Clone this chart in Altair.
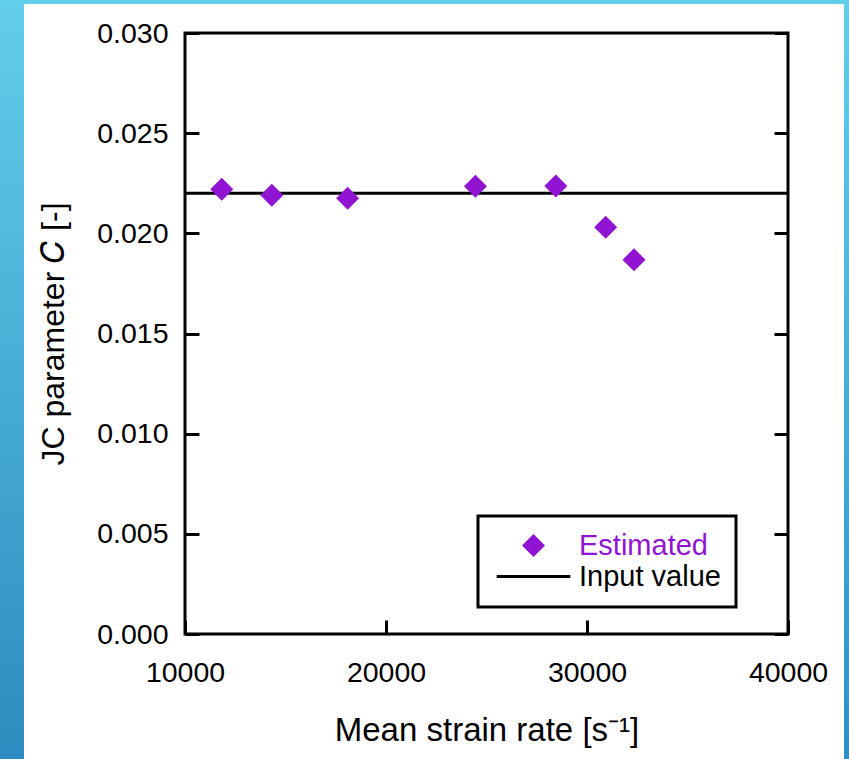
import altair as alt
import pandas as pd

# ---- data ----
strain_rate = [11830, 14320, 18090, 24450, 28450, 30930, 32340]
c_estimated = [0.02220, 0.02190, 0.02175, 0.02235, 0.02236, 0.02030, 0.01868]
input_value = [0.022]
series_names = ["Estimated", "Input value"]
series_colors = ["#9114D2", "#000000"]
x_ticks = [10000, 20000, 30000, 40000]
y_ticks = [0.000, 0.005, 0.010, 0.015, 0.020, 0.025, 0.030]

W, H = 603, 601
PAD = {"left": 185, "top": 33, "right": 61, "bottom": 125}
FONT = "Liberation Sans"
PURPLE = series_colors[0]

est = pd.DataFrame({"rate": strain_rate, "C": c_estimated, "series": series_names[0]})
inp = pd.DataFrame({"C": input_value})
one = pd.DataFrame({"k": [0]})

x_scale = alt.Scale(domain=[10000, 40000], nice=False, zero=False)
y_scale = alt.Scale(domain=[0, 0.03], nice=False, zero=True)

# ---- slide background strips (decoration) ----
def grad(c1, c2):
    return alt.LinearGradient(
        gradient="linear",
        stops=[alt.GradientStop(offset=0, color=c1), alt.GradientStop(offset=1, color=c2)],
        x1=0, x2=0, y1=0, y2=1,
    )

left_strip = alt.Chart(one).mark_rect(color=grad("#62CEEA", "#2C8CBF")).encode(
    x=alt.value(-PAD["left"]), x2=alt.value(24 - PAD["left"]),
    y=alt.value(-PAD["top"]), y2=alt.value(H + PAD["bottom"]),
)
top_strip = alt.Chart(one).mark_rect(color="#61CFEA").encode(
    x=alt.value(-PAD["left"]), x2=alt.value(W + PAD["right"]),
    y=alt.value(-PAD["top"]), y2=alt.value(4 - PAD["top"]),
)
right_strip = alt.Chart(one).mark_rect(color=grad("#62CEEA", "#2E90C2")).encode(
    x=alt.value(844 - PAD["left"]), x2=alt.value(W + PAD["right"]),
    y=alt.value(-PAD["top"]), y2=alt.value(H + PAD["bottom"]),
)

# ---- axes ----
main_x_axis = alt.Axis(
    orient="bottom", values=x_ticks, format="d", ticks=False, domain=False, grid=False,
    labelFont=FONT, labelFontSize=28.5, labelColor="black", labelPadding=24,
    labelFlush=False, labelOverlap=False,
    title="Mean strain rate [s⁻¹]", titleFont=FONT, titleFontSize=33,
    titleFontWeight="normal", titleColor="black", titlePadding=28,
)
main_y_axis = alt.Axis(
    orient="left", values=y_ticks, format=".3f", ticks=False, domain=False, grid=False,
    labelFont=FONT, labelFontSize=28.5, labelColor="black", labelPadding=17,
    labelFlush=False, labelOverlap=False,
    title="JC parameter 𝐶 [-]", titleFont=FONT, titleFontSize=32,
    titleFontWeight="normal", titleColor="black", titlePadding=26,
)

def tick_axis(orient, values):
    return alt.Axis(
        orient=orient, offset=-14, values=values, ticks=True, tickSize=14, tickWidth=3,
        tickColor="black", labels=False, domain=False, grid=False, title=None,
    )

legend = alt.Legend(
    orient="none", legendX=293, legendY=483, title=None,
    labelFont=FONT, labelFontSize=29,
    labelColor=alt.ExprRef(expr=f"datum.label == 'Estimated' ? '{PURPLE}' : '#000000'"),
    symbolSize=530, symbolStrokeWidth=0, symbolOffset=26, labelOffset=31, padding=15,
    strokeColor="black", rowPadding=1,
)

color_enc = alt.Color("series:N", scale=alt.Scale(domain=series_names, range=series_colors), legend=legend)
shape_enc = alt.Shape(
    "series:N",
    scale=alt.Scale(domain=series_names, range=["diamond", "M-3.2,-0.13L3.2,-0.13L3.2,0.13L-3.2,0.13Z"]),
    legend=legend,
)

points = alt.Chart(est).mark_point(filled=True, size=530, opacity=1, strokeWidth=0).encode(
    x=alt.X("rate:Q", scale=x_scale, axis=main_x_axis),
    y=alt.Y("C:Q", scale=y_scale, axis=main_y_axis),
    color=color_enc,
    shape=shape_enc,
)

rule = alt.Chart(inp).mark_rule(color="black", strokeWidth=3).encode(
    y=alt.Y("C:Q", scale=y_scale, axis=tick_axis("left", y_ticks)),
)

tick_carrier = alt.Chart(est).mark_point(opacity=0).encode(
    x=alt.X("rate:Q", scale=x_scale, axis=tick_axis("bottom", x_ticks)),
    y=alt.Y("C:Q", scale=y_scale, axis=tick_axis("right", y_ticks)),
)

chart = (
    alt.layer(left_strip, top_strip, right_strip, rule, tick_carrier, points)
    .resolve_axis(x="independent", y="independent")
    .properties(width=W, height=H, padding=PAD, autosize=alt.AutoSizeParams(type="none"))
    .configure(background="white")
    .configure_view(stroke="black", strokeWidth=3)
    .configure_legend(strokeWidth=3)
)

chart.save("out.html", embed_options={"renderer": "svg", "actions": False})
